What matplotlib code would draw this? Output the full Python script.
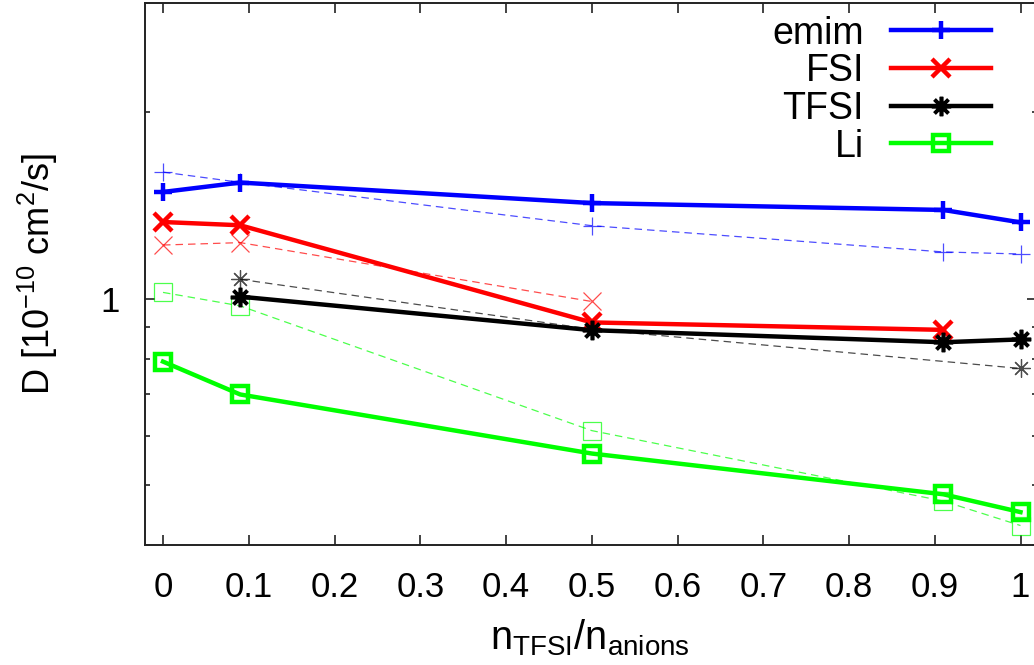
import numpy as np
import matplotlib
matplotlib.use("Agg")
import matplotlib.pyplot as plt
from matplotlib.ticker import LogLocator, NullFormatter, FixedLocator, FixedFormatter

plt.rcParams['font.family'] = ['Liberation Sans', 'DejaVu Sans']
plt.rcParams['mathtext.fontset'] = 'custom'
plt.rcParams['mathtext.rm'] = 'Liberation Sans'
plt.rcParams['mathtext.it'] = 'Liberation Sans:italic'

# ---- data ----
series_names = ["emim", "FSI", "TFSI", "Li"]
series_colors = ["#0000ff", "#ff0000", "#000000", "#00ff00"]
series_markers = ["+", "x", (8, 2, 0), "s"]

# solid (thick) series
emim_x = [0, 0.09, 0.5, 0.91, 1.0]
emim_y = [1.486, 1.539, 1.426, 1.390, 1.327]
fsi_x = [0, 0.09, 0.5, 0.91]
fsi_y = [1.329, 1.313, 0.915, 0.890]
tfsi_x = [0.09, 0.5, 0.91, 1.0]
tfsi_y = [1.007, 0.889, 0.850, 0.859]
li_x = [0, 0.09, 0.5, 0.91, 1.0]
li_y = [0.791, 0.700, 0.562, 0.483, 0.452]

# dashed (thin) series
emim2_x = [0, 0.09, 0.5, 0.91, 1.0]
emim2_y = [1.600, 1.540, 1.311, 1.189, 1.180]
fsi2_x = [0, 0.09, 0.5]
fsi2_y = [1.220, 1.231, 0.989]
tfsi2_x = [0.09, 0.5, 1.0]
tfsi2_y = [1.074, 0.892, 0.771]
li2_x = [0, 0.09, 0.5, 0.91, 1.0]
li2_y = [1.023, 0.973, 0.612, 0.471, 0.430]

xticks = [0, 0.1, 0.2, 0.3, 0.4, 0.5, 0.6, 0.7, 0.8, 0.9, 1.0]
xtick_labels = ["0", "0.1", "0.2", "0.3", "0.4", "0.5", "0.6", "0.7", "0.8", "0.9", "1"]

W, H = 1034, 665
fig = plt.figure(figsize=(W / 100, H / 100), dpi=100)
L, R, T, B = 145, 1037, 3, 545
ax = fig.add_axes([L / W, 1 - B / H, (R - L) / W, (B - T) / H])

solid = [(emim_x, emim_y), (fsi_x, fsi_y), (tfsi_x, tfsi_y), (li_x, li_y)]
dashed = [(emim2_x, emim2_y), (fsi2_x, fsi2_y), (tfsi2_x, tfsi2_y), (li2_x, li2_y)]

for (x, y), c, m in zip(dashed, series_colors, series_markers):
    ax.plot(x, y, color=c, lw=0.9, ls=(0, (6, 4)), marker=m,
            ms=13 if m != "s" else 13.5,
            mew=0.9, mfc='none', alpha=0.7, zorder=2)

for (x, y), c, m, name in zip(solid, series_colors, series_markers, series_names):
    is_star = isinstance(m, tuple)
    ax.plot(x, y, color=c, lw=3.2, marker=m,
            ms=14 if is_star else (12 if m == "s" else 13),
            mew=2.6 if is_star else 3.2, mfc='none', label=name, zorder=3)

ax.set_yscale('log')
ax.set_ylim(0.4, 3.0)
ax.set_xlim(-18 / 857.5, 1 + (R - 1020.5) / 857.5)

ax.yaxis.set_major_locator(FixedLocator([1]))
ax.yaxis.set_major_formatter(FixedFormatter(["1"]))
ax.yaxis.set_minor_locator(LogLocator(base=10, subs=np.arange(2, 10)))
ax.yaxis.set_minor_formatter(NullFormatter())

ax.set_xticks(xticks)
ax.set_xticklabels(xtick_labels)

ax.tick_params(which='both', direction='in', top=True, right=True,
               labelsize=25, width=1.2, color='#222222')
ax.tick_params(which='major', length=7)
ax.tick_params(which='minor', length=3.5)
ax.tick_params(axis='x', pad=18.5)
ax.tick_params(axis='y', pad=18)
for s in ax.spines.values():
    s.set_linewidth(1.4)
    s.set_color('#222222')

ax.set_ylabel(r'$\mathregular{D\ [10^{-10}\ cm^{2}/s]}$', fontsize=26)
ax.yaxis.set_label_coords((60 - L) / (R - L), 0.5)
ax.set_xlabel(r'$\mathregular{n_{TFSI}/n_{anions}}$', fontsize=28.5)
ax.xaxis.set_label_coords((590 - L) / (R - L), -(617 - B) / (B - T))

leg = ax.legend(loc='upper right', bbox_to_anchor=(991 / W, 1 - 15.5 / H),
                bbox_transform=fig.transFigure, frameon=False, markerfirst=False,
                fontsize=27, handlelength=2.67, handletextpad=0.72,
                labelspacing=0.045, borderpad=0, borderaxespad=0)

fig.savefig("out.png", dpi=100)
